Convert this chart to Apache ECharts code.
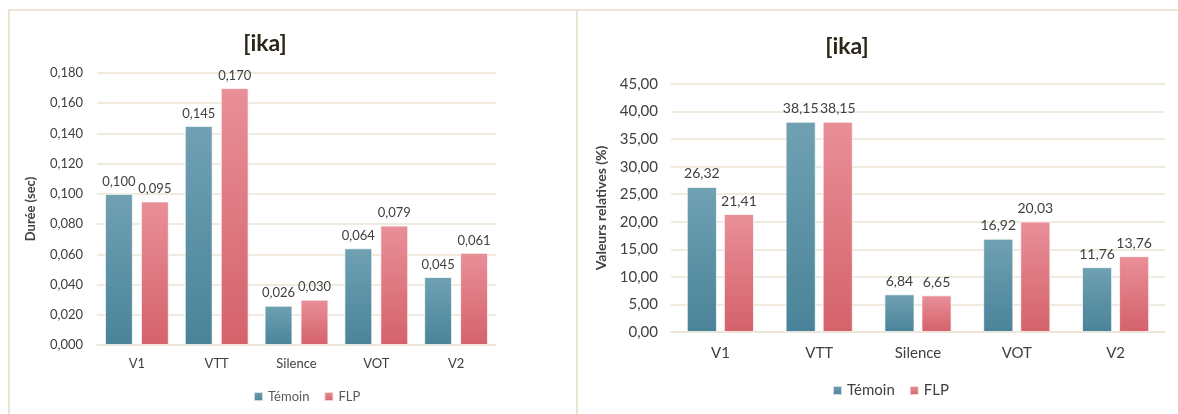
<!DOCTYPE html>
<html lang="fr">
<head>
<meta charset="UTF-8">
<title>[ika]</title>
<script src="https://cdn.jsdelivr.net/npm/echarts@6/dist/echarts.min.js"></script>
<style>
  html, body { margin: 0; padding: 0; background: #fff; }
  #main { width: 1178px; height: 414px; }
</style>
</head>
<body>
<div id="main"></div>
<script>
// categories and values
var categories = ['V1', 'VTT', 'Silence', 'VOT', 'V2'];
var dureeTemoin = [0.100, 0.145, 0.026, 0.064, 0.045];
var dureeFLP = [0.095, 0.170, 0.030, 0.079, 0.061];
var relTemoin = [26.32, 38.15, 6.84, 16.92, 11.76];
var relFLP = [21.41, 38.15, 6.65, 20.03, 13.76];

var font = 'Lato, "Open Sans", sans-serif';
var textColor = '#404040';
var beige = '#ece3d3';

function grad(top, bottom) {
    return new echarts.graphic.LinearGradient(0, 0, 0, 1, [
        { offset: 0, color: top },
        { offset: 1, color: bottom }
    ]);
}
var blue = grad('#6fa1b2', '#4a8399');
var red = grad('#e98f98', '#d4626b');

function fmt(d) {
    return function (v) { return v.toFixed(d).replace('.', ','); };
}

function barSeries(name, data, color, xi, dec, size, gap, catGap) {
    return {
        name: name,
        type: 'bar',
        xAxisIndex: xi,
        yAxisIndex: xi,
        data: data,
        barGap: gap,
        barCategoryGap: catGap,
        itemStyle: { color: color, borderColor: 'rgba(255,255,255,0.7)', borderWidth: 1 },
        label: {
            show: true,
            position: 'top',
            distance: 6,
            color: textColor,
            fontFamily: font,
            fontSize: size,
            formatter: function (p) { return fmt(dec)(p.value); }
        }
    };
}

var myChart = echarts.init(document.getElementById('main'));
var option = {
    animation: false,
    textStyle: { fontFamily: font },
    title: [
        { text: '[ika]', left: 260, top: 27, textAlign: 'center',
          textStyle: { fontSize: 23, fontWeight: 'bold', color: '#2b2618', fontFamily: font } },
        { text: '[ika]', left: 842, top: 30, textAlign: 'center',
          textStyle: { fontSize: 23, fontWeight: 'bold', color: '#2b2618', fontFamily: font } }
    ],
    legend: [
        { data: ['Témoin', 'FLP'], left: 248, top: 385, itemWidth: 9, itemHeight: 9, itemGap: 14,
          icon: 'rect', textStyle: { color: '#595959', fontSize: 13, fontFamily: font },
          selectedMode: false },
        { data: ['Témoin', 'FLP'], left: 832, top: 383, itemWidth: 9, itemHeight: 9, itemGap: 14,
          icon: 'rect', textStyle: { color: '#404040', fontSize: 15, fontFamily: font },
          selectedMode: false, padding: 0 }
    ],
    grid: [
        { left: 97, right: 682, top: 73, bottom: 69 },
        { left: 671, right: 13, top: 84, bottom: 82 }
    ],
    xAxis: [
        { type: 'category', gridIndex: 0, data: categories,
          axisLine: { lineStyle: { color: beige, width: 1.5 } }, axisTick: { show: false },
          axisLabel: { color: textColor, fontSize: 13, margin: 12, fontFamily: font } },
        { type: 'category', gridIndex: 1, data: categories,
          axisLine: { lineStyle: { color: beige, width: 1.5 } }, axisTick: { show: false },
          axisLabel: { color: textColor, fontSize: 15, margin: 14, fontFamily: font } }
    ],
    yAxis: [
        { type: 'value', gridIndex: 0, min: 0, max: 0.18, interval: 0.02,
          name: 'Durée (sec)', nameLocation: 'middle', nameGap: 60,
          nameTextStyle: { fontWeight: 'bold', fontSize: 13, color: textColor, fontFamily: font },
          axisLine: { show: false }, axisTick: { show: false },
          splitLine: { lineStyle: { color: beige, width: 1.5 } },
          axisLabel: { color: textColor, fontSize: 13, margin: 14, formatter: fmt(3), fontFamily: font } },
        { type: 'value', gridIndex: 1, min: 0, max: 45, interval: 5,
          name: 'Valeurs relatives (%)', nameLocation: 'middle', nameGap: 63,
          nameTextStyle: { fontWeight: 'bold', fontSize: 14, color: textColor, fontFamily: font },
          axisLine: { show: false }, axisTick: { show: false },
          splitLine: { lineStyle: { color: beige, width: 1.5 } },
          axisLabel: { color: textColor, fontSize: 15, margin: 13, formatter: fmt(2), fontFamily: font } }
    ],
    graphic: [
        { type: 'polyline', shape: { points: [[9, 420], [9, 10], [577, 10], [577, 420]] },
          style: { stroke: '#ede4d5', lineWidth: 2, fill: null } },
        { type: 'line', shape: { x1: 578, y1: 10, x2: 1178, y2: 10 },
          style: { stroke: '#ede4d5', lineWidth: 2 } }
    ],
    series: [
        barSeries('Témoin', dureeTemoin, blue, 0, 3, 13, '29%', '20%'),
        barSeries('FLP', dureeFLP, red, 0, 3, 13, '29%', '20%'),
        barSeries('Témoin', relTemoin, blue, 1, 2, 14, '23%', '32%'),
        barSeries('FLP', relFLP, red, 1, 2, 14, '23%', '32%')
    ]
};
myChart.setOption(option);
</script>
</body>
</html>
